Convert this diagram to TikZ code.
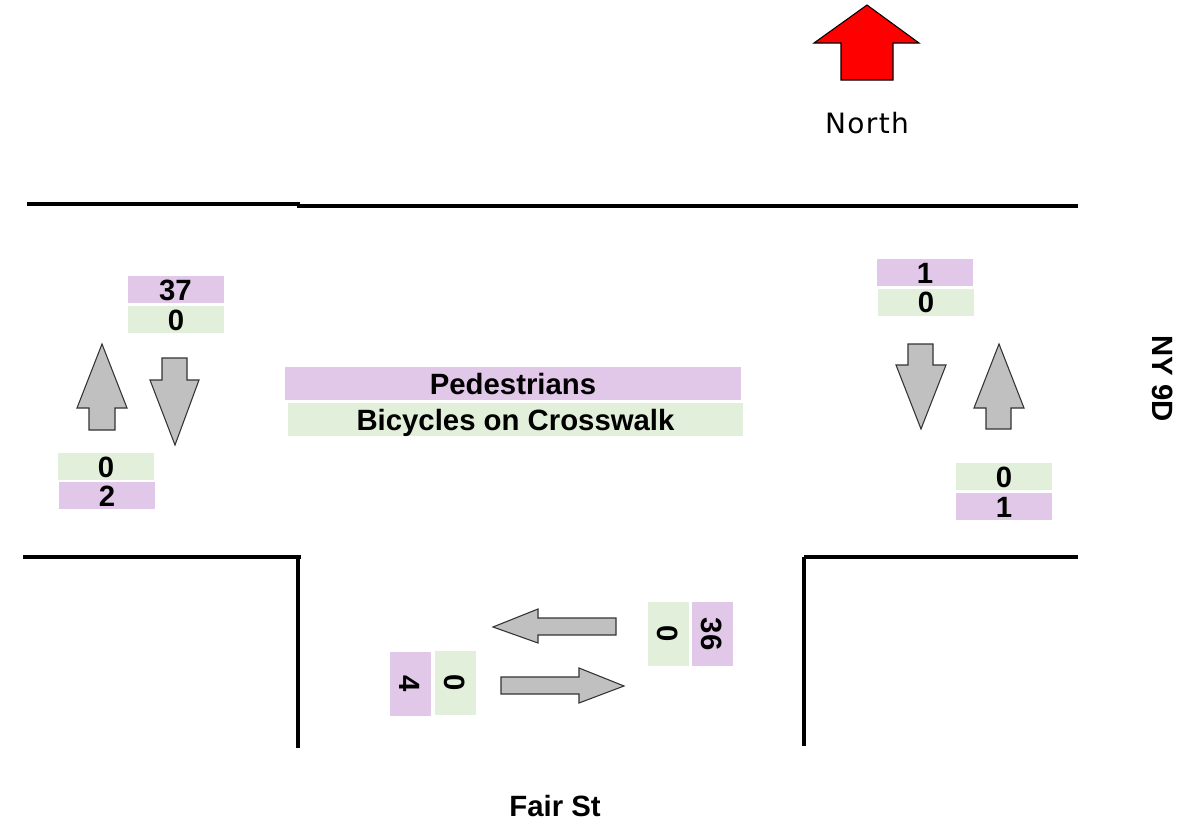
\documentclass[tikz,border=0pt]{standalone}
\usepackage{fontspec}
\setmainfont{Liberation Sans}
\newfontfamily\northfont[LetterSpace=5]{DejaVu Sans}
\definecolor{pinkbox}{RGB}{225,200,232}
\definecolor{greenbox}{RGB}{226,239,218}
\definecolor{arrowgray}{RGB}{192,192,192}
\begin{document}
\begin{tikzpicture}[x=0.75pt,y=-0.75pt,
  road/.style={line width=2.3pt, black},
  garrow/.style={fill=arrowgray, draw=black!80, line width=0.8pt, line join=miter},
  narrow/.style={fill=red, draw=black, line width=0.8pt},
  cnt/.style={inner sep=0pt, outer sep=0pt, text height=15.8pt, text depth=0pt,
    font=\bfseries\fontsize{22}{25}\selectfont, align=center},
  pk/.style={cnt, fill=pinkbox},
  gr/.style={cnt, fill=greenbox},
  hbox/.style={minimum width=72pt, minimum height=20.25pt},
  vbox/.style={minimum width=48pt, minimum height=30.75pt, rotate=-90},
  lbl/.style={inner sep=0pt, font=\bfseries\fontsize{22}{25}\selectfont}]
\useasboundingbox (0,0) rectangle (1182,828);
\fill[white] (0,0) rectangle (1182,828);

% roads
\draw[road] (27,204) -- (300,204);
\draw[road] (297,206) -- (1078,206);
\draw[road] (23,557) -- (301,557);
\draw[road] (298,557) -- (298,748);
\draw[road] (804,557) -- (1078,557);
\draw[road] (804,557) -- (804,746);

% north arrow
\draw[narrow] (867,5) -- (919,43) -- (893,43) -- (893,80) -- (841,80) -- (841,43) -- (814,43) -- cycle;
\node[inner sep=0pt, font=\northfont\fontsize{21}{24}\selectfont] (north) at (867,123) {North};

% gray arrows
\draw[garrow] (102,344) -- (127,408) -- (115,408) -- (115,430) -- (89,430) -- (89,408) -- (77,408) -- cycle;
\draw[garrow] (162,358) -- (187,358) -- (187,380) -- (199,380) -- (175,445) -- (150,380) -- (162,380) -- cycle;
\draw[garrow] (908,344) -- (933,344) -- (933,365) -- (946,365) -- (921,429) -- (896,365) -- (908,365) -- cycle;
\draw[garrow] (999,344) -- (1024,408) -- (1011,408) -- (1011,429) -- (986,429) -- (986,408) -- (974,408) -- cycle;
\draw[garrow] (493,627) -- (538,609) -- (538,618) -- (616,618) -- (616,635) -- (538,635) -- (538,643) -- cycle;
\draw[garrow] (501,677) -- (579,677) -- (579,668) -- (624,686) -- (579,703) -- (579,694) -- (501,694) -- cycle;

% count boxes
\node[pk, hbox] (p37) at (175.5,289.5) {37};
\node[gr, hbox] (g0a) at (176,319.5) {0};
\node[gr, hbox] (g0b) at (106,466.5) {0};
\node[pk, hbox] (p2) at (107,495.5) {2};
\node[pk, hbox] (p1) at (925,272.5) {1};
\node[gr, hbox] (g0c) at (926,302) {0};
\node[gr, hbox] (g0d) at (1004,476.5) {0};
\node[pk, hbox] (p1b) at (1004,506.5) {1};
\node[pk, vbox] (p4) at (410.5,684) {4};
\node[gr, vbox] (g0e) at (455.5,683) {0};
\node[gr, vbox] (g0f) at (668.5,634) {0};
\node[pk, vbox] (p36) at (712.5,634) {36};

% legend
\node[pk, minimum width=342pt, minimum height=24.75pt] (ped) at (513,383.5) {Pedestrians};
\node[gr, minimum width=341.25pt, minimum height=24.75pt] (bic) at (515.5,419.5) {Bicycles on Crosswalk};

% street names
\node[lbl, rotate=-90] (ny) at (1163,379) {NY 9D};
\node[lbl] (fair) at (555,806) {Fair St};
\end{tikzpicture}
\end{document}
